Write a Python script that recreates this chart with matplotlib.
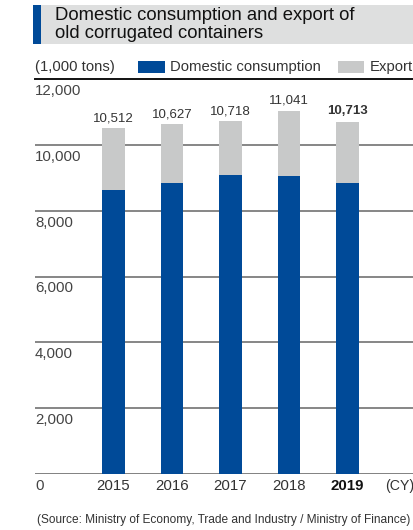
import matplotlib
matplotlib.use("Agg")
import matplotlib.pyplot as plt
from matplotlib.patches import Rectangle

plt.rcParams['font.family'] = ['Liberation Sans', 'DejaVu Sans']

# data (1,000 tons)
years = ['2015', '2016', '2017', '2018', '2019']
totals = [10512, 10627, 10718, 11041, 10713]
domestic = [8620, 8840, 9080, 9050, 8860]
export = [t - d for t, d in zip(totals, domestic)]
total_labels = ['10,512', '10,627', '10,718', '11,041', '10,713']
y_ticks = [0, 2000, 4000, 6000, 8000, 10000, 12000]
y_tick_labels = ['0', '2,000', '4,000', '6,000', '8,000', '10,000', '12,000']

BLUE = '#004A98'
GRAY = '#C8C9C9'
W, H = 414, 530


def fx(px):
    return px / W


def fy(py):
    # py measured from top
    return 1 - py / H


fig = plt.figure(figsize=(W / 100, H / 100), dpi=100)

# title box
fig.add_artist(Rectangle((fx(33), fy(44)), fx(414 - 33), (44 - 5) / H,
                         transform=fig.transFigure, facecolor='#DEDFDF', edgecolor='none'))
fig.add_artist(Rectangle((fx(33), fy(44)), fx(8), (44 - 5) / H,
                         transform=fig.transFigure, facecolor=BLUE, edgecolor='none'))
fig.text(fx(55), fy(15.5), 'Domestic consumption and export of', fontsize=13.3,
         va='center', ha='left', color='#111111')
fig.text(fx(55), fy(33), 'old corrugated containers', fontsize=13.3,
         va='center', ha='left', color='#111111')

# legend row
fig.text(fx(35), fy(67), '(1,000 tons)', fontsize=10.7, va='center', ha='left', color='#333333')
fig.add_artist(Rectangle((fx(138), fy(73)), fx(27), 12 / H,
                         transform=fig.transFigure, facecolor=BLUE, edgecolor='none'))
fig.text(fx(170), fy(67), 'Domestic consumption', fontsize=10.7, va='center', ha='left', color='#333333')
fig.add_artist(Rectangle((fx(338), fy(73)), fx(26), 12 / H,
                         transform=fig.transFigure, facecolor=GRAY, edgecolor='none'))
fig.text(fx(370), fy(67), 'Export', fontsize=10.7, va='center', ha='left', color='#333333')

# plot area
ax_left, ax_right = 35, 414
ax_top, ax_bottom = 79.3, 473.7
ax = fig.add_axes([fx(ax_left), fy(ax_bottom), fx(ax_right - ax_left), (ax_bottom - ax_top) / H])
step = 58.5
x0 = -(113.5 - ax_left) / step
ax.set_xlim(x0, x0 + (ax_right - ax_left) / step)
ax.set_ylim(0, 12000)
ax.axis('off')

for v in y_ticks[1:-1]:
    ax.axhline(v, color='#666666', lw=1.1, zorder=1)
ax.axhline(0, color='#777777', lw=1.3, zorder=1)
ax.axhline(12000, color='#111111', lw=1.4, zorder=1, clip_on=False)

xs = list(range(len(years)))
ax.bar(xs, domestic, width=0.393, color=BLUE, zorder=2)
ax.bar(xs, export, bottom=domestic, width=0.393, color=GRAY, zorder=2)

for i, (t, lab) in enumerate(zip(totals, total_labels)):
    ax.annotate(lab, (i, t), xytext=(0, 3), textcoords='offset points',
                ha='center', va='bottom', fontsize=9.5, color='#333333',
                fontweight='bold' if i == len(years) - 1 else 'normal')

for v, lab in zip(y_ticks, y_tick_labels):
    ax.annotate(lab, (0, v), xycoords=('axes fraction', 'data'), xytext=(0, -3.5),
                textcoords='offset points', ha='left', va='top', fontsize=10.8,
                color='#444444', annotation_clip=False)

for i, yr in enumerate(years):
    ax.annotate(yr, (i, 0), xytext=(0, -3.5), textcoords='offset points',
                ha='center', va='top', fontsize=10.8,
                color='#111111' if i == len(years) - 1 else '#333333',
                fontweight='bold' if i == len(years) - 1 else 'normal',
                annotation_clip=False)
ax.annotate('(CY)', (1, 0), xycoords='axes fraction', xytext=(-20.5, -3.5),
            textcoords='offset points', ha='left', va='top', fontsize=10.2,
            color='#333333', annotation_clip=False)

fig.text(fx(37), fy(520), '(Source: Ministry of Economy, Trade and Industry / Ministry of Finance)',
         fontsize=8.6, va='center', ha='left', color='#333333')

fig.savefig('out.png', dpi=100)
